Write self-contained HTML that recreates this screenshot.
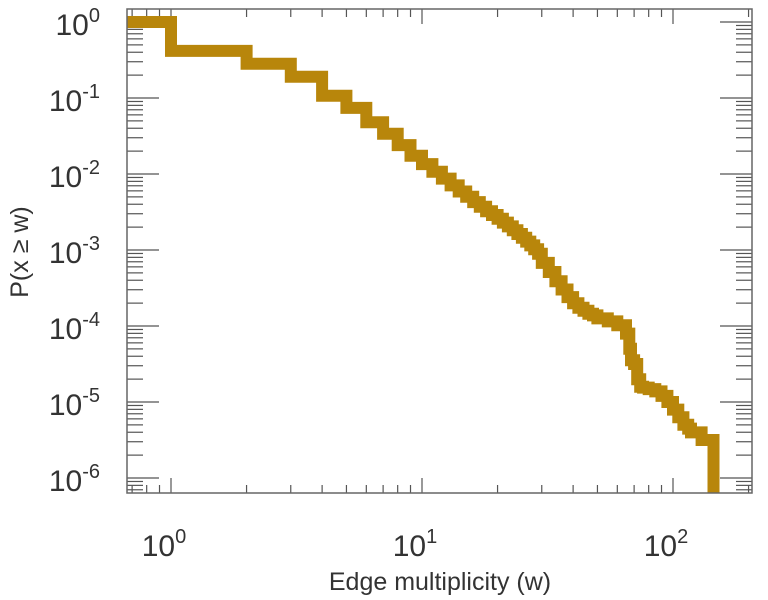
<!DOCTYPE html>
<html><head><meta charset="utf-8"><style>
html,body{margin:0;padding:0;background:#fff}
svg{display:block;font-family:"Liberation Sans",sans-serif}
</style></head><body>
<svg id="chart" width="768" height="600" viewBox="0 0 768 600" xmlns="http://www.w3.org/2000/svg">
<defs><clipPath id="plotclip"><rect x="127" y="0" width="625" height="493"/></clipPath></defs>
<g id="ticks"></g>
<path id="series" clip-path="url(#plotclip)" fill="none" stroke="#b8860b" stroke-width="12" stroke-linejoin="miter"/>
<rect x="127" y="9" width="625" height="484" fill="none" stroke="#666" stroke-width="1.5"/>
<g id="labels"></g>
<text x="440" y="590" font-size="25" text-anchor="middle" fill="#333">Edge multiplicity (w)</text>
<text transform="translate(28,252) rotate(-90)" font-size="25" text-anchor="middle" fill="#333">P(x ≥ w)</text>
</svg>
<script>
const wValues = [0.6,1,2,3,4,5,6,7,8,9,10,11,12,13,14,15,16,17,18,19,20,21,22,23,24,25,26,27,28,29,30,32,34,36,38,40,42,44,46,48,50,55,60,65,67,68,70,72,74,76,80,85,90,95,100,105,110,115,118,130,145,158];
const logP = [0,-0.38,-0.55,-0.72,-0.97,-1.13,-1.32,-1.47,-1.62,-1.76,-1.87,-1.97,-2.06,-2.15,-2.23,-2.3,-2.37,-2.43,-2.49,-2.54,-2.59,-2.64,-2.69,-2.74,-2.79,-2.84,-2.89,-2.94,-2.99,-3.05,-3.17,-3.29,-3.41,-3.52,-3.62,-3.7,-3.76,-3.8,-3.84,-3.86,-3.9,-3.94,-3.99,-4.1,-4.3,-4.45,-4.5,-4.7,-4.8,-4.81,-4.83,-4.86,-4.92,-5.0,-5.1,-5.2,-5.3,-5.35,-5.4,-5.5,-7];
const xDecades = [0,1,2];
const yDecades = [0,-1,-2,-3,-4,-5,-6];
const L=127,R=752,T=9,B=493;
const X0=171,XD=251, Y0=22,YD=76;
const xs = w => X0 + XD*Math.log10(w);
const ysLog = lp => Y0 - YD*lp;
const cx = v => Math.max(L-10, Math.min(R, v));
const cy = v => Math.max(T, Math.min(B+20, v));
let d = "";
for (let i=0;i<wValues.length;i++){
  const x1 = cx(xs(wValues[i])), y = cy(ysLog(logP[i]));
  const x2 = i+1<wValues.length ? cx(xs(wValues[i+1])) : x1;
  d += (i===0?"M":"L")+x1.toFixed(1)+","+y.toFixed(1)+" L"+x2.toFixed(1)+","+y.toFixed(1)+" ";
}
const ser=document.getElementById('series');
ser.setAttribute('d', d);
const NS="http://www.w3.org/2000/svg";
const tg=document.getElementById('ticks'), lg=document.getElementById('labels');
function line(x1,y1,x2,y2,name){
  const l=document.createElementNS(NS,'line');
  l.setAttribute('x1',x1);l.setAttribute('y1',y1);l.setAttribute('x2',x2);l.setAttribute('y2',y2);
  l.setAttribute('stroke','#555');l.setAttribute('stroke-width','1.2');
  
  
  tg.appendChild(l);
}
for (let e=-1;e<=2;e++){
  for (let m=1;m<=9;m++){
    const x = xs(m*Math.pow(10,e));
    if (x<L||x>R) continue;
    const len = m===1?15:8;
    line(x,B,x,B-len,'x-tick');
    line(x,T,x,T+len,'x-tick-top');
  }
}
for (let e=-7;e<=0;e++){
  for (let m=1;m<=9;m++){
    const y = ysLog(Math.log10(m*Math.pow(10,e)));
    if (y<T||y>B) continue;
    const len = m===1?32:16;
    line(L,y,L+len,y,'y-tick');
    line(R,y,R-len,y,'y-tick-right');
  }
}
function label(x,y,exp,anchor,name){
  const t=document.createElementNS(NS,'text');
  t.setAttribute('x',x);t.setAttribute('y',y);t.setAttribute('text-anchor',anchor);
  t.setAttribute('font-size','30');t.setAttribute('fill','#333');
  
  
  t.innerHTML='10<tspan font-size="20" dy="-13">'+exp+'</tspan>';
  lg.appendChild(t);
}
xDecades.forEach(e=>label(xs(Math.pow(10,e))-7,556,String(e),'middle','x-tick-label'));
yDecades.forEach(e=>label(100,ysLog(e)+13,String(e),'end','y-tick-label'));
</script>
</body></html>
